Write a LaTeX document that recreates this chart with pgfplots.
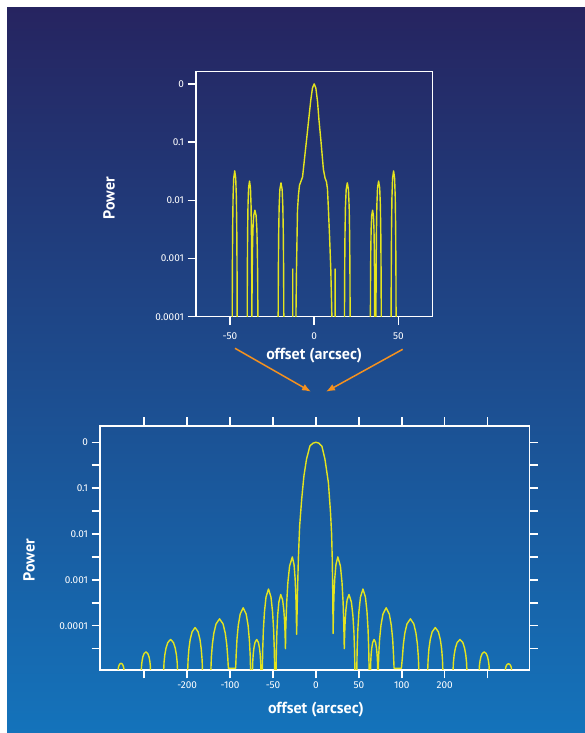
\documentclass[border=0pt]{standalone}
\usepackage{pgfplots}
\pgfplotsset{compat=1.18}
\usepackage{fontspec}
\setmainfont{PT Sans}
\newfontfamily\tickfont{Fira Sans}
\usetikzlibrary{arrows.meta}

\definecolor{curve}{RGB}{228,228,30}
\definecolor{arr}{RGB}{245,145,30}
\definecolor{bgtop}{RGB}{38,36,96}
\definecolor{bgmid}{RGB}{34,72,132}
\definecolor{bgbot}{RGB}{20,115,187}

\pgfplotsset{
  every tick/.style={white, line width=1.5pt},
  every major tick/.style={white, line width=1.5pt},
  every minor tick/.style={white, line width=1.5pt},
  chartstyle/.style={
    scale only axis, anchor=south west, clip=true,
    axis line style={white, line width=1.3pt},
    tick align=outside,
    major tick length=8.5pt, minor tick length=8.5pt,
    xtick style={white, line width=1.5pt},
    ytick style={white, line width=1.5pt},
    minor tick style={white, line width=1.5pt},
    ticklabel style={white, font=\tickfont\fontsize{10}{12}\selectfont},
    /pgf/number format/assume math mode=true,
    label style={white, font=\bfseries\fontsize{16}{18}\selectfont},
  },
}

\begin{document}
\begin{tikzpicture}
\useasboundingbox (0pt,0pt) rectangle (585pt,733pt);
\fill[white] (0pt,0pt) rectangle (585pt,733pt);
\shade[top color=bgtop, middle color=bgmid, bottom color=bgbot] (7pt,0pt) rectangle (585pt,725pt);

% ---------------- top chart ----------------
\begin{axis}[chartstyle,
  at={(196pt,416.3pt)}, width=236.3pt, height=245pt,
  xmin=-70.2, xmax=70.2, ymin=-4, ymax=0.21,
  xtick={-50,0,50}, xticklabels={-50,0,50},
  ytick={0,-1,-2,-3,-4}, yticklabels={0,0.1,0.01,0.001,0.0001},
  xtick pos=bottom, ytick pos=left,
  xticklabel style={yshift=-4pt},
  xlabel={offset (arcsec)}, ylabel={Power},
  xlabel style={at={(axis description cs:0.5,-0.16)}, anchor=center},
  ylabel style={at={(axis description cs:-0.368,0.484)}, anchor=center},
]
\addplot[curve, line width=1.4pt, line join=round] coordinates {
(-48.7,-4.2) (-48.595,-3.25) (-48.43,-2.497) (-48.175,-1.946) (-47.8,-1.62) (-47.2,-1.495) (-46.6,-1.62) (-46.225,-1.946) (-45.97,-2.497) (-45.805,-3.25) (-45.7,-4.2)
(-39.8,-4.2) (-39.702,-3.30) (-39.548,-2.602) (-39.31,-2.089) (-38.96,-1.787) (-38.4,-1.67) (-37.84,-1.787) (-37.49,-2.089) (-37.252,-2.602) (-37.098,-3.30) (-37.0,-4.2)
(-36.874,-3.451) (-36.676,-2.902) (-36.37,-2.499) (-35.92,-2.262) (-35.2,-2.17) (-34.48,-2.262) (-34.03,-2.499) (-33.724,-2.902) (-33.526,-3.451) (-33.4,-4.2)
(-21.4,-4.2) (-21.281,-3.31) (-21.094,-2.62) (-20.805,-2.114) (-20.38,-1.815) (-19.7,-1.70) (-19.02,-1.815) (-18.595,-2.114) (-18.306,-2.62) (-18.119,-3.31) (-18.0,-4.2)
(-12.7,-4.2) (-12.7,-3.18) (-12.7,-4.2)
(-10.9,-4.2) (-10.5,-3.2) (-9.9,-2.17) (-9.3,-1.90) (-8.7,-1.74) (-7.8,-1.67) (-6.9,-1.60) (-5.6,-1.25) (-4.3,-0.905) (-3.2,-0.6) (-2.0,-0.28) (-1.0,-0.07) (0,0)
(1.0,-0.07) (2.0,-0.3) (2.8,-0.6) (4.0,-0.97) (5.5,-1.47) (6.5,-1.62) (7.3,-1.68) (7.9,-1.80) (8.5,-2.17) (9.2,-2.65) (9.9,-3.2) (10.7,-4.2)
(12.5,-4.2) (12.5,-3.18) (12.5,-4.2)
(18.0,-4.2) (18.119,-3.31) (18.306,-2.62) (18.595,-2.114) (19.02,-1.815) (19.7,-1.70) (20.38,-1.815) (20.805,-2.114) (21.094,-2.62) (21.281,-3.31) (21.4,-4.2)
(33.4,-4.2) (33.491,-3.451) (33.634,-2.902) (33.855,-2.499) (34.18,-2.262) (34.7,-2.17) (35.22,-2.262) (35.545,-2.499) (35.766,-2.902) (35.909,-3.451) (36.0,-4.2)
(36.7,-4.2) (36.812,-3.30) (36.988,-2.602) (37.26,-2.089) (37.66,-1.787) (38.3,-1.67) (38.94,-1.787) (39.34,-2.089) (39.612,-2.602) (39.788,-3.30) (39.9,-4.2)
(45.7,-4.2) (45.805,-3.25) (45.97,-2.497) (46.225,-1.946) (46.6,-1.62) (47.2,-1.495) (47.8,-1.62) (48.175,-1.946) (48.43,-2.497) (48.595,-3.25) (48.7,-4.2)
};
\end{axis}

% ---------------- bottom chart ----------------
\begin{axis}[chartstyle,
  at={(100pt,63pt)}, width=429.3pt, height=244pt,
  xmin=-5.03, xmax=4.97, ymin=-4.966, ymax=0.355,
  xtick={-3,-2,-1,0,1,2,3}, xticklabels={-200,-100,-50,0,50,100,200},
  minor xtick={-4,4},
  ytick={0,-1,-2,-3,-4}, yticklabels={0,0.1,0.01,0.001,0.0001},
  minor ytick={-0.5,-1.5,-2.5,-3.5,-4.5},
  xtick pos=both, ytick pos=both,
  xticklabel pos=bottom, yticklabel pos=left,
  xlabel={offset (arcsec)}, ylabel={Power},
  xlabel style={at={(axis description cs:0.503,-0.164)}, anchor=center},
  ylabel style={at={(axis description cs:-0.165,0.451)}, anchor=center},
]
\addplot[curve, line width=1.4pt, line join=round] coordinates {
(-4.61,-5.05) (-4.605,-4.93) (-4.597,-4.895) (-4.585,-4.862) (-4.568,-4.835) (-4.54,-4.82) (-4.512,-4.835) (-4.495,-4.862) (-4.483,-4.895) (-4.475,-4.93) (-4.47,-5.05)
(-4.07,-5.05) (-4.062,-4.87) (-4.05,-4.77) (-4.032,-4.68) (-4.004,-4.61) (-3.96,-4.57) (-3.916,-4.61) (-3.888,-4.68) (-3.87,-4.77) (-3.858,-4.87) (-3.85,-5.05)
(-3.55,-5.05) (-3.538,-4.80) (-3.52,-4.635) (-3.492,-4.488) (-3.451,-4.367) (-3.385,-4.30) (-3.319,-4.367) (-3.278,-4.488) (-3.25,-4.635) (-3.232,-4.80) (-3.22,-5.05)
(-2.99,-5.05) (-2.978,-4.738) (-2.959,-4.505) (-2.929,-4.30) (-2.885,-4.133) (-2.815,-4.04) (-2.745,-4.133) (-2.701,-4.30) (-2.672,-4.505) (-2.652,-4.738) (-2.64,-5.05)
(-2.45,-5.05) (-2.436,-4.69) (-2.413,-4.41) (-2.378,-4.164) (-2.327,-3.962) (-2.245,-3.85) (-2.163,-3.962) (-2.112,-4.164) (-2.077,-4.41) (-2.054,-4.69) (-2.04,-4.93) (-1.87,-4.93)
(-1.858,-4.63) (-1.839,-4.29) (-1.809,-3.991) (-1.765,-3.746) (-1.695,-3.61) (-1.625,-3.746) (-1.581,-3.991) (-1.552,-4.29) (-1.532,-4.63) (-1.52,-5.05)
(-1.48,-5.05) (-1.473,-4.80) (-1.462,-4.635) (-1.445,-4.488) (-1.42,-4.367) (-1.38,-4.30) (-1.34,-4.367) (-1.315,-4.488) (-1.298,-4.635) (-1.287,-4.80) (-1.28,-5.05)
(-1.25,-5.05) (-1.24,-4.528) (-1.224,-4.085) (-1.199,-3.696) (-1.163,-3.377) (-1.105,-3.20) (-1.047,-3.377) (-1.011,-3.696) (-0.986,-4.085) (-0.97,-4.528) (-0.96,-5.05)
(-0.93,-5.05) (-0.922,-4.56) (-0.91,-4.145) (-0.892,-3.78) (-0.864,-3.485) (-0.82,-3.32) (-0.776,-3.44) (-0.749,-3.65) (-0.73,-3.91) (-0.718,-4.2) (-0.71,-4.50)
(-0.701,-4.0) (-0.681,-3.5) (-0.654,-3.06) (-0.614,-2.70) (-0.55,-2.50) (-0.51,-2.669) (-0.485,-2.973) (-0.468,-3.345) (-0.457,-3.77) (-0.45,-4.19)
(-0.43,-3.3) (-0.41,-2.55) (-0.38,-1.83) (-0.33,-1.22) (-0.28,-0.735) (-0.22,-0.37) (-0.14,-0.08) (-0.07,-0.02) (0,0) (0.07,-0.02) (0.14,-0.09) (0.21,-0.37) (0.29,-0.88) (0.34,-1.54) (0.365,-2.0) (0.38,-2.55) (0.392,-3.3) (0.40,-4.17)
(0.408,-3.75) (0.42,-3.335) (0.4385,-2.968) (0.466,-2.667) (0.51,-2.50) (0.57,-2.70) (0.6075,-3.06) (0.633,-3.50) (0.6495,-4.0) (0.66,-4.50)
(0.668,-4.205) (0.68,-3.91) (0.6985,-3.65) (0.726,-3.438) (0.77,-3.32) (0.826,-3.485) (0.861,-3.782) (0.885,-4.145) (0.90,-4.56) (0.91,-5.05)
(0.95,-5.05) (0.96,-4.528) (0.976,-4.085) (1.001,-3.696) (1.037,-3.377) (1.095,-3.20) (1.153,-3.377) (1.189,-3.696) (1.214,-4.085) (1.23,-4.528) (1.24,-5.05)
(1.27,-5.05) (1.276,-4.80) (1.285,-4.635) (1.30,-4.488) (1.321,-4.367) (1.355,-4.30) (1.389,-4.367) (1.41,-4.488) (1.425,-4.635) (1.434,-4.80) (1.44,-5.05)
(1.45,-5.05) (1.463,-4.63) (1.483,-4.29) (1.515,-3.991) (1.561,-3.746) (1.635,-3.61) (1.709,-3.746) (1.755,-3.991) (1.787,-4.29) (1.807,-4.63) (1.82,-4.93) (1.99,-4.93)
(2.014,-4.69) (2.036,-4.41) (2.07,-4.164) (2.12,-3.962) (2.20,-3.85) (2.28,-3.962) (2.33,-4.164) (2.364,-4.41) (2.386,-4.69) (2.40,-5.05)
(2.60,-5.05) (2.613,-4.738) (2.632,-4.505) (2.663,-4.30) (2.708,-4.133) (2.78,-4.04) (2.852,-4.133) (2.897,-4.30) (2.928,-4.505) (2.947,-4.738) (2.96,-5.05)
(3.19,-5.05) (3.202,-4.80) (3.22,-4.635) (3.248,-4.488) (3.289,-4.367) (3.355,-4.30) (3.421,-4.367) (3.462,-4.488) (3.49,-4.635) (3.508,-4.80) (3.52,-5.05)
(3.80,-5.05) (3.808,-4.87) (3.822,-4.77) (3.842,-4.68) (3.872,-4.61) (3.92,-4.57) (3.968,-4.61) (3.998,-4.68) (4.018,-4.77) (4.032,-4.87) (4.04,-5.05)
(4.41,-5.05) (4.415,-4.935) (4.424,-4.90) (4.436,-4.869) (4.455,-4.844) (4.485,-4.83) (4.515,-4.844) (4.534,-4.869) (4.546,-4.90) (4.555,-4.935) (4.56,-5.05)
};
\end{axis}

\draw[arr, line width=1.5pt, -{Latex[length=9pt,width=7pt]}] (235pt,384.7pt) -- (311pt,341.3pt);
\draw[arr, line width=1.5pt, -{Latex[length=9pt,width=7pt]}] (402.7pt,383.7pt) -- (326pt,341.3pt);
\end{tikzpicture}
\end{document}
